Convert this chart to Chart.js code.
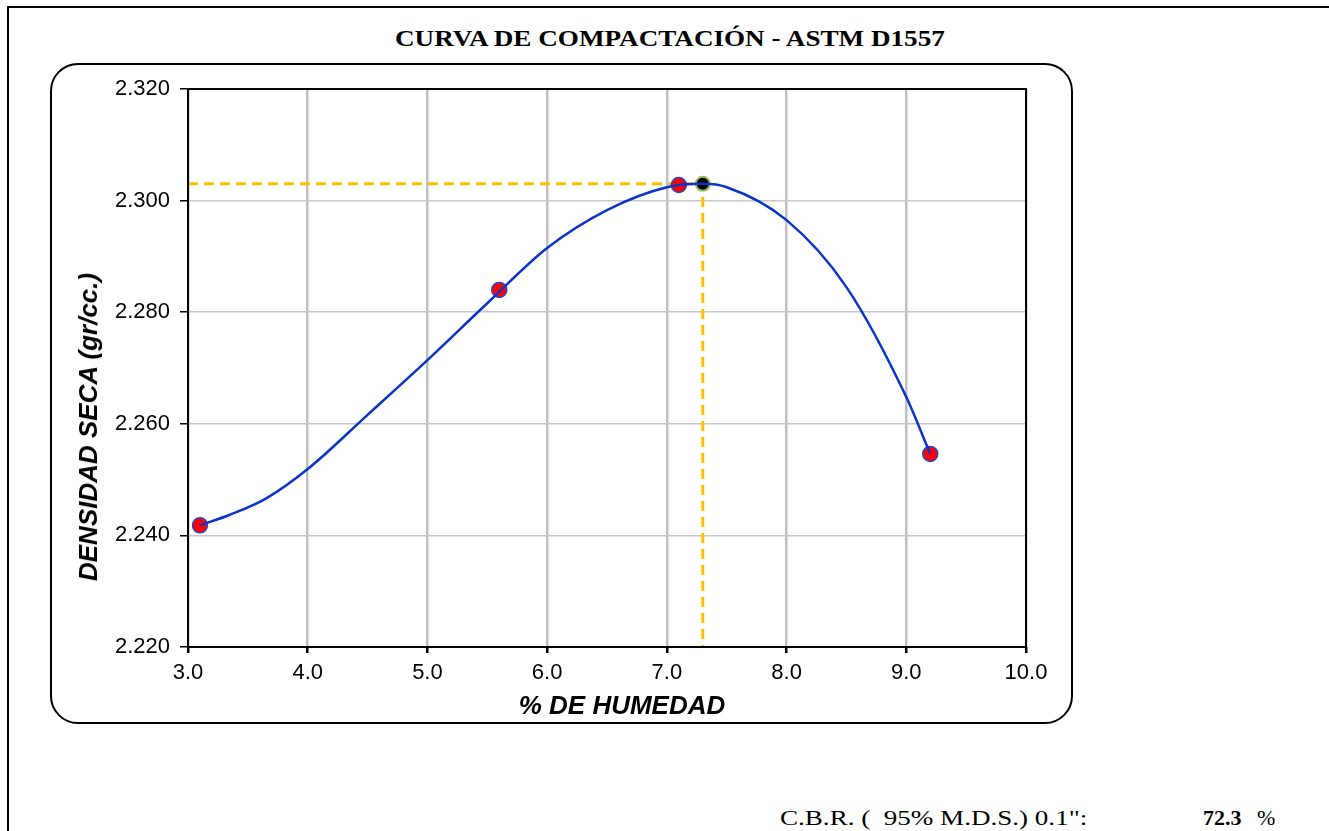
<!DOCTYPE html>
<html>
<head>
<meta charset="utf-8">
<script src="https://cdn.jsdelivr.net/npm/chart.js@4.4.0/dist/chart.umd.min.js"></script>
<style>
  body { margin: 0; background: #fff; width: 1329px; height: 831px; overflow: hidden; position: relative; }
  #frame { position: absolute; left: 7px; top: 6px; width: 1340px; height: 840px; border-top: 2px solid #000; border-left: 2px solid #000; }
  #box { position: absolute; left: 50px; top: 63px; width: 1019px; height: 657px; border: 2px solid #000; border-radius: 28px; }
  #wrap { position: absolute; left: 0; top: 0; width: 1329px; height: 831px; }
  #title { position: absolute; left: 395px; top: 25px; font: bold 24px "Liberation Serif"; white-space: pre; transform-origin: left top; transform: scaleX(1.13); }
  .cbr { position: absolute; top: 805px; font: 22px "Liberation Serif"; white-space: pre; transform-origin: left top; }
  .axt { position: absolute; font: italic bold 26px "Liberation Sans"; white-space: nowrap; line-height: 30px; z-index: 2; }
  #xt { left: 622px; top: 705px; transform: translate(-50%, -50%); }
  #yt { left: 88px; top: 427px; transform: translate(-50%, -50%) rotate(-90deg); }
</style>
</head>
<body>
<div id="frame"></div>
<div id="box"></div>
<div id="title">CURVA DE COMPACTACIÓN - ASTM D1557</div>
<div class="cbr" style="left:780px;transform:scaleX(1.23)">C.B.R. (  95% M.D.S.) 0.1":</div>
<div class="cbr" style="left:1203px;font-weight:bold">72.3</div>
<div class="cbr" style="left:1257px">%</div>
<div id="wrap"><canvas id="myChart"></canvas></div>
<div class="axt" id="xt">% DE HUMEDAD</div>
<div class="axt" id="yt">DENSIDAD SECA (gr/cc.)</div>
<script>
// ensayos (humedad %, densidad seca gr/cc)
var humedad = [3.1, 5.6, 7.1, 9.2];
var densidad = [2.2418, 2.284, 2.3028, 2.2546];

// curva
var curvaX = [3.1, 3.35, 3.65, 4.0, 4.5, 5.0, 5.5, 6.0, 6.5, 7.0, 7.3, 7.5, 8.0, 8.5, 9.0, 9.2];
var curvaY = [2.2418, 2.2437, 2.2466, 2.2519, 2.2616, 2.2714, 2.2816, 2.2915, 2.2983, 2.3024, 2.3030, 2.3024, 2.2965, 2.2845, 2.2648, 2.2546];

// optimo
var optHumedad = 7.3;
var maxDensidad = 2.303;

var xTicks = [3, 4, 5, 6, 7, 8, 9, 10];
var yTicks = [2.22, 2.24, 2.26, 2.28, 2.30, 2.32];

function pts(xs, ys) {
    return xs.map(function (x, i) { return {x: x, y: ys[i]}; });
}

var plotBorder = {
    id: 'plotBorder',
    afterDatasetsDraw: function (chart) {
        var a = chart.chartArea, ctx = chart.ctx;
        ctx.save();
        ctx.strokeStyle = '#000';
        ctx.lineWidth = 2;
        ctx.strokeRect(a.left, a.top, a.right - a.left, a.bottom - a.top);
        ctx.restore();
    }
};

var ctx = document.getElementById('myChart').getContext('2d');
var myChart = new Chart(ctx, {
    type: 'scatter',
    data: {
        datasets: [{
            label: 'curva',
            data: pts(curvaX, curvaY),
            showLine: true,
            cubicInterpolationMode: 'monotone',
            borderColor: '#0A33CC',
            borderWidth: 2.5,
            pointRadius: 0,
            order: 0
        }, {
            label: 'ensayos',
            data: pts(humedad, densidad),
            backgroundColor: '#FF0000',
            borderColor: '#2346D0',
            borderWidth: 1.5,
            pointRadius: 7.5,
            order: 1
        }, {
            label: 'optimo',
            data: [{x: optHumedad, y: maxDensidad}],
            backgroundColor: '#000000',
            borderColor: '#9BBB59',
            borderWidth: 2,
            pointRadius: 7,
            order: 1
        }, {
            label: 'lineas',
            data: [{x: xTicks[0], y: maxDensidad}, {x: optHumedad, y: maxDensidad}, {x: optHumedad, y: yTicks[0]}],
            showLine: true,
            borderColor: '#FFC000',
            borderWidth: 3,
            borderDash: [10, 6],
            pointRadius: 0,
            order: 2
        }]
    },
    options: {
        responsive: true,
        maintainAspectRatio: false,
        animation: false,
        layout: { padding: { left: 60, top: 89, right: 303, bottom: 100 } },
        plugins: { legend: { display: false }, tooltip: { enabled: false } },
        scales: {
            x: {
                type: 'linear',
                min: 3, max: 10,
                afterBuildTicks: function (s) { s.ticks = xTicks.map(function (v) { return {value: v}; }); },
                afterFit: function (s) { s.height = 84; },
                ticks: {
                    color: '#000',
                    font: { family: 'Liberation Sans', size: 22 },
                    padding: 7,
                    callback: function (v) { return v.toFixed(1); }
                },
                grid: { color: '#C0C0C0', lineWidth: 2.5, tickColor: '#000', tickLength: 6 },
                border: { display: false }
            },
            y: {
                type: 'linear',
                min: 2.22, max: 2.32,
                afterBuildTicks: function (s) { s.ticks = yTicks.map(function (v) { return {value: v}; }); },
                afterFit: function (s) { s.width = 128; },
                ticks: {
                    color: '#000',
                    font: { family: 'Liberation Sans', size: 22 },
                    padding: 10,
                    callback: function (v) { return v.toFixed(3); }
                },
                grid: { color: '#C8C8C8', lineWidth: 1.5, tickColor: '#000', tickLength: 8 },
                border: { display: false }
            }
        }
    },
    plugins: [plotBorder]
});
</script>
</body>
</html>
